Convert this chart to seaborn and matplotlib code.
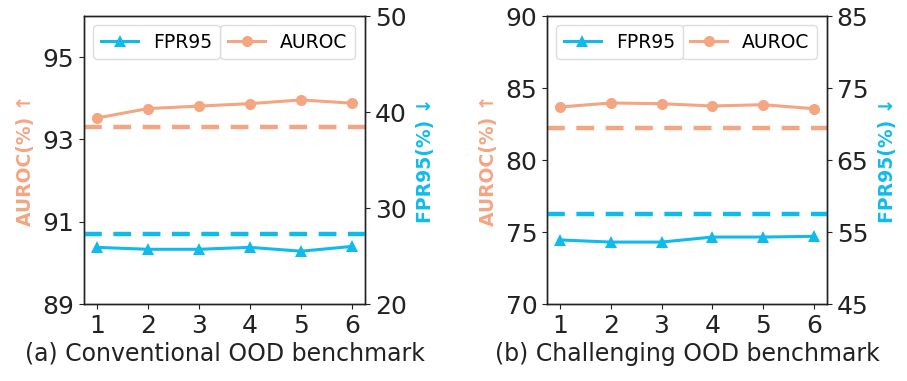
import matplotlib
matplotlib.use("Agg")
import matplotlib.pyplot as plt
import seaborn as sns
import pandas as pd

x = [1, 2, 3, 4, 5, 6]

# (a) Conventional OOD benchmark
auroc_a = [93.52, 93.75, 93.81, 93.87, 93.96, 93.88]
fpr_a = [25.9, 25.7, 25.7, 25.9, 25.5, 26.0]
auroc_base_a = 93.30
fpr_base_a = 27.3

# (b) Challenging OOD benchmark
auroc_b = [83.68, 83.96, 83.91, 83.75, 83.84, 83.56]
fpr_b = [53.9, 53.6, 53.6, 54.3, 54.3, 54.4]
auroc_base_b = 82.25
fpr_base_b = 57.45

titles = ["(a) Conventional OOD benchmark", "(b) Challenging OOD benchmark"]
auroc_lims = [(89, 96), (70, 90)]
auroc_ticks = [[89, 91, 93, 95], [70, 75, 80, 85, 90]]
fpr_lims = [(20, 50), (45, 85)]
fpr_ticks = [[20, 30, 40, 50], [45, 55, 65, 75, 85]]

C_AUROC = "#F4A582"
C_FPR = "#10BBEC"

fig = plt.figure(figsize=(9.07, 3.81), dpi=100)
boxes = [(84, 365), (547, 827)]
W, H = 907, 381
top_px, bot_px = 16, 304

data = [
    (auroc_a, fpr_a, auroc_base_a, fpr_base_a),
    (auroc_b, fpr_b, auroc_base_b, fpr_base_b),
]

for i, (au, fp, aub, fpb) in enumerate(data):
    l, r = boxes[i]
    ax = fig.add_axes([l / W, 1 - bot_px / H, (r - l) / W, (bot_px - top_px) / H])
    ax2 = ax.twinx()
    df = pd.DataFrame({"x": x, "AUROC": au, "FPR95": fp})

    sns.lineplot(data=df, x="x", y="AUROC", ax=ax, color=C_AUROC, marker="o",
                 markersize=8, markeredgewidth=0, linewidth=2.2, legend=False)
    ax.axhline(aub, color=C_AUROC, linestyle=(0, (4, 2.6)), linewidth=3.2)
    sns.lineplot(data=df, x="x", y="FPR95", ax=ax2, color=C_FPR, marker="^",
                 markersize=8, markeredgewidth=0, linewidth=2.2, legend=False)
    ax2.axhline(fpb, color=C_FPR, linestyle=(0, (4, 2.6)), linewidth=3.2)

    ax.set_xlim(0.75, 6.25)
    ax.set_xticks(x)
    ax.set_ylim(*auroc_lims[i])
    ax.set_yticks(auroc_ticks[i])
    ax2.set_ylim(*fpr_lims[i])
    ax2.set_yticks(fpr_ticks[i])

    ax.tick_params(axis="both", labelsize=18, colors="#222222", labelcolor="#222222")
    ax2.tick_params(axis="y", labelsize=18, colors="#222222", labelcolor="#222222")

    ax.set_xlabel(titles[i], fontsize=17, color="#222222", labelpad=3)
    ax.set_ylabel("AUROC(%) ↑", fontsize=13.5, fontweight="bold", color=C_AUROC, labelpad=5)
    ax2.set_ylabel("FPR95(%) ↓", fontsize=13.5, fontweight="bold", color=C_FPR, labelpad=7)

    for a in (ax, ax2):
        for s in a.spines.values():
            s.set_color("#222222")
            s.set_linewidth(1.0)

    h1 = ax.get_lines()[0]
    h2 = ax2.get_lines()[0]
    leg1 = ax.legend([h1], ["AUROC"], loc="upper right", bbox_to_anchor=(0.965, 0.968),
                     fontsize=13.5, handlelength=2.0, borderaxespad=0.0, frameon=True)
    leg2 = ax2.legend([h2], ["FPR95"], loc="upper left", bbox_to_anchor=(0.033, 0.968),
                      fontsize=13.5, handlelength=2.0, borderaxespad=0.0, frameon=True)
    for lg in (leg1, leg2):
        lg.get_frame().set_alpha(1.0)
        lg.get_frame().set_edgecolor("#DDDDDD")
        lg.get_frame().set_facecolor("white")

fig.savefig("out.png", dpi=100)
